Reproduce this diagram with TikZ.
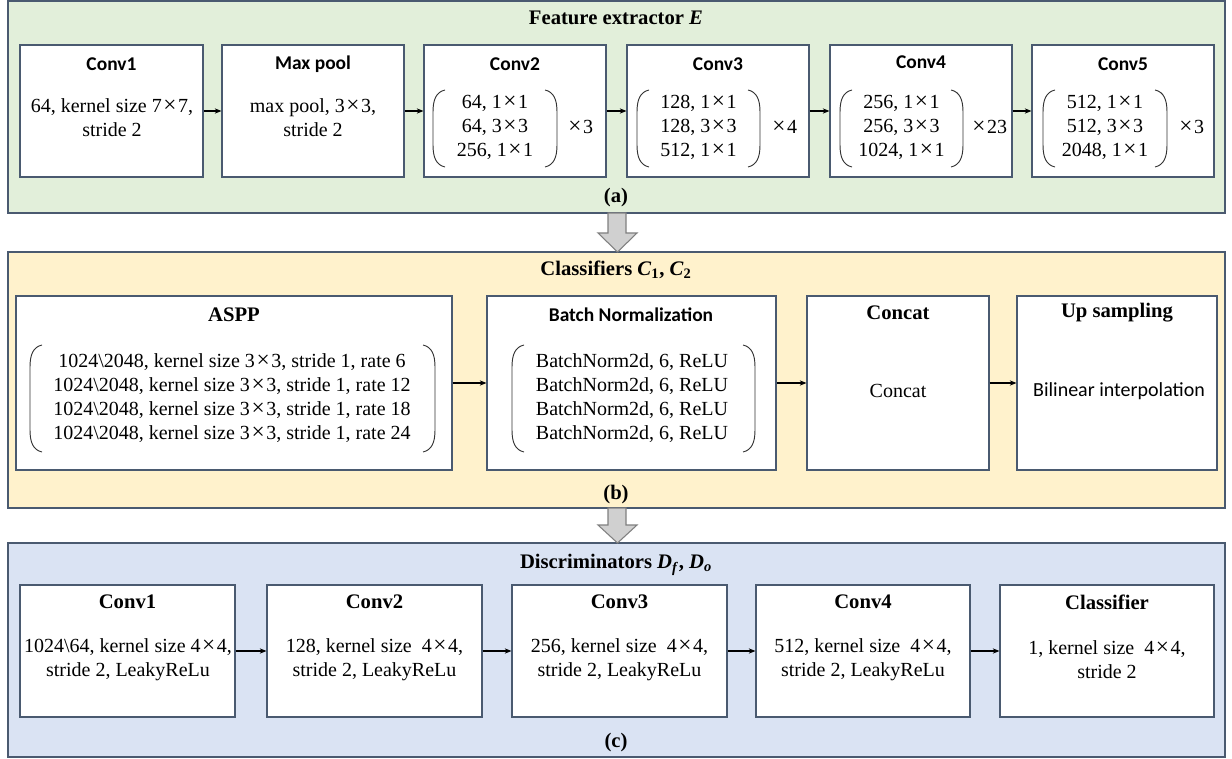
\documentclass[tikz,border=0pt]{standalone}
\usepackage{fontspec}
\setmainfont{Liberation Serif}
\newfontfamily\calib{Carlito}
\usetikzlibrary{arrows.meta,fit}
\definecolor{bordc}{HTML}{4A5A70}
\definecolor{greenf}{HTML}{E2EFDA}
\definecolor{yellowf}{HTML}{FFF2CC}
\definecolor{bluef}{HTML}{DAE3F3}
\definecolor{arrowf}{HTML}{D0D0D0}
\definecolor{arrowd}{HTML}{808080}
\newcommand\tms{\hspace{0.08em}{\fontsize{17.5}{18}\selectfont ×}\hspace{0.08em}}
\newcommand\brL[3]{\draw[brk] (#1+12,#2) .. controls (#1+3,#2+2) and (#1,#2+10) .. (#1,#2+22) -- (#1,#3-22) .. controls (#1,#3-10) and (#1+3,#3-2) .. (#1+12,#3);}
\newcommand\brR[3]{\draw[brk] (#1-12,#2) .. controls (#1-3,#2+2) and (#1,#2+10) .. (#1,#2+22) -- (#1,#3-22) .. controls (#1,#3-10) and (#1-3,#3-2) .. (#1-12,#3);}
\begin{document}
\begin{tikzpicture}[x=0.75pt,y=-0.75pt,
  panel/.style={draw=bordc,line width=1.1pt,inner sep=0pt},
  box/.style={draw=bordc,line width=0.9pt,fill=white,inner sep=0pt},
  body/.style={font=\fontsize{15}{18}\selectfont,align=center,inner sep=0pt},
  ttl/.style={font=\fontsize{15.5}{18}\selectfont\bfseries,inner sep=0pt},
  sttl/.style={font=\calib\fontsize{14.6}{16}\selectfont\bfseries,inner sep=0pt},
  conn/.style={line width=0.8pt,-{Stealth[length=5pt,width=4pt]}},
  brk/.style={line width=0.7pt,draw=black!80},
  barrow/.style={draw=arrowd,line width=0.8pt,fill=arrowf,line join=miter}]
\useasboundingbox[fill=white] (0,0) rectangle (1232,759);

% panels
\node[panel,fill=greenf,fit={(8,1) (1225,213)}] (pa) {};
\node[panel,fill=yellowf,fit={(8,252) (1225,508)}] (pb) {};
\node[panel,fill=bluef,fit={(8,543) (1225,757)}] (pc) {};

% block arrows
\draw[barrow] (608,213) -- (626,213) -- (626,233) -- (637,233) -- (617.5,252) -- (598,233) -- (608,233) -- cycle;
\draw[barrow] (608,508) -- (626,508) -- (626,525) -- (637,525) -- (617.5,543) -- (598,525) -- (608,525) -- cycle;

% panel titles and labels
\node[ttl] (ta) at (616,18) {Feature extractor \textit{E}};
\node[ttl] (la) at (616,198) {(a)};
\node[ttl] (tb) at (616,270) {Classifiers \textit{C}\textsubscript{1}, \textit{C}\textsubscript{2}};
\node[ttl] (lb) at (616,495) {(b)};
\node[ttl] (tc) at (616,565) {Discriminators \textit{D}\textsubscript{\textit{f}}, \textit{D}\textsubscript{\textit{o}}};
\node[ttl] (lc) at (616,743) {(c)};

% ---- row a ----
\node[box,fit={(20,45) (203,177)}] (a1) {};
\node[box,fit={(222,45) (404,177)}] (a2) {};
\node[box,fit={(424,45) (606,177)}] (a3) {};
\node[box,fit={(627,45) (809,177)}] (a4) {};
\node[box,fit={(830,45) (1012,177)}] (a5) {};
\node[box,fit={(1032,45) (1214,177)}] (a6) {};
\draw[conn] (a1) -- (a2);
\draw[conn] (a2) -- (a3);
\draw[conn] (a3) -- (a4);
\draw[conn] (a4) -- (a5);
\draw[conn] (a5) -- (a6);

\node[sttl] (a1t) at (111.5,64) {Conv1};
\node[body] (a1b) at (112,118) {64, kernel size 7\tms7,\\stride 2};
\node[sttl] (a2t) at (313,64) {Max pool};
\node[body] (a2b) at (313,118) {max pool, 3\tms3,\\stride 2};

\node[sttl] (a3t) at (515,64) {Conv2};
\node[body] (a3b) at (495,127) {64, 1\tms1\\64, 3\tms3\\256, 1\tms1};
\node[body] (a3x) at (580,127) {\tms3};
\brL{433}{90}{167}\brR{557}{90}{167}

\node[sttl] (a4t) at (718,64) {Conv3};
\node[body] (a4b) at (698.5,127) {128, 1\tms1\\128, 3\tms3\\512, 1\tms1};
\node[body] (a4x) at (784,127) {\tms4};
\brL{637}{90}{167}\brR{760}{90}{167}

\node[sttl] (a5t) at (921,62) {Conv4};
\node[body] (a5b) at (901.5,127) {256, 1\tms1\\256, 3\tms3\\1024, 1\tms1};
\node[body] (a5x) at (989,127) {\tms23};
\brL{840}{90}{167}\brR{963}{90}{167}

\node[sttl] (a6t) at (1123,64) {Conv5};
\node[body] (a6b) at (1105,127) {512, 1\tms1\\512, 3\tms3\\2048, 1\tms1};
\node[body] (a6x) at (1191,127) {\tms3};
\brL{1043}{90}{167}\brR{1167}{90}{167}

% ---- row b ----
\node[box,fit={(16,296) (452,470)}] (b1) {};
\node[box,fit={(487,296) (776,470)}] (b2) {};
\node[box,fit={(807,296) (989,470)}] (b3) {};
\node[box,fit={(1017,296) (1217,470)}] (b4) {};
\draw[conn] (b1) -- (b2);
\draw[conn] (b2) -- (b3);
\draw[conn] (b3) -- (b4);

\node[ttl] (b1t) at (234,315) {ASPP};
\node[body] (b1b) at (232,398.5) {1024\textbackslash 2048, kernel size 3\tms3, stride 1, rate 6\\1024\textbackslash 2048, kernel size 3\tms3, stride 1, rate 12\\1024\textbackslash 2048, kernel size 3\tms3, stride 1, rate 18\\1024\textbackslash 2048, kernel size 3\tms3, stride 1, rate 24};
\brL{30}{345}{452}\brR{435}{345}{452}

\node[sttl] (b2t) at (631,315) {Batch Normalization};
\node[body] (b2b) at (632,398.5) {BatchNorm2d, 6, ReLU\\BatchNorm2d, 6, ReLU\\BatchNorm2d, 6, ReLU\\BatchNorm2d, 6, ReLU};
\brL{512}{345}{452}\brR{755}{345}{452}

\node[ttl] (b3t) at (898,313) {Concat};
\node[body] (b3b) at (898,391) {Concat};
\node[ttl] (b4t) at (1117,313) {Up sampling};
\node[body,font=\calib\fontsize{15}{18}\selectfont] (b4b) at (1119,391) {Bilinear interpolation};

% ---- row c ----
\node[box,fit={(20,585) (235,717)}] (c1) {};
\node[box,fit={(267,585) (482,717)}] (c2) {};
\node[box,fit={(512,585) (727,717)}] (c3) {};
\node[box,fit={(756,585) (970,717)}] (c4) {};
\node[box,fit={(1000,585) (1214,717)}] (c5) {};
\draw[conn] (c1) -- (c2);
\draw[conn] (c2) -- (c3);
\draw[conn] (c3) -- (c4);
\draw[conn] (c4) -- (c5);

\node[ttl] (c1t) at (127.5,602) {Conv1};
\node[body] (c1b) at (128,660) {1024\textbackslash 64, kernel size 4\tms4,\\stride 2, LeakyReLu};
\node[ttl] (c2t) at (374.5,602) {Conv2};
\node[body] (c2b) at (374.5,660) {128, kernel size\ \ 4\tms4,\\stride 2, LeakyReLu};
\node[ttl] (c3t) at (619.5,602) {Conv3};
\node[body] (c3b) at (619.5,660) {256, kernel size\ \ 4\tms4,\\stride 2, LeakyReLu};
\node[ttl] (c4t) at (863,602) {Conv4};
\node[body] (c4b) at (863,660) {512, kernel size\ \ 4\tms4,\\stride 2, LeakyReLu};
\node[ttl] (c5t) at (1107,602) {Classifier};
\node[body] (c5b) at (1107,660) {1, kernel size\ \ 4\tms4,\\stride 2};
\end{tikzpicture}
\end{document}
